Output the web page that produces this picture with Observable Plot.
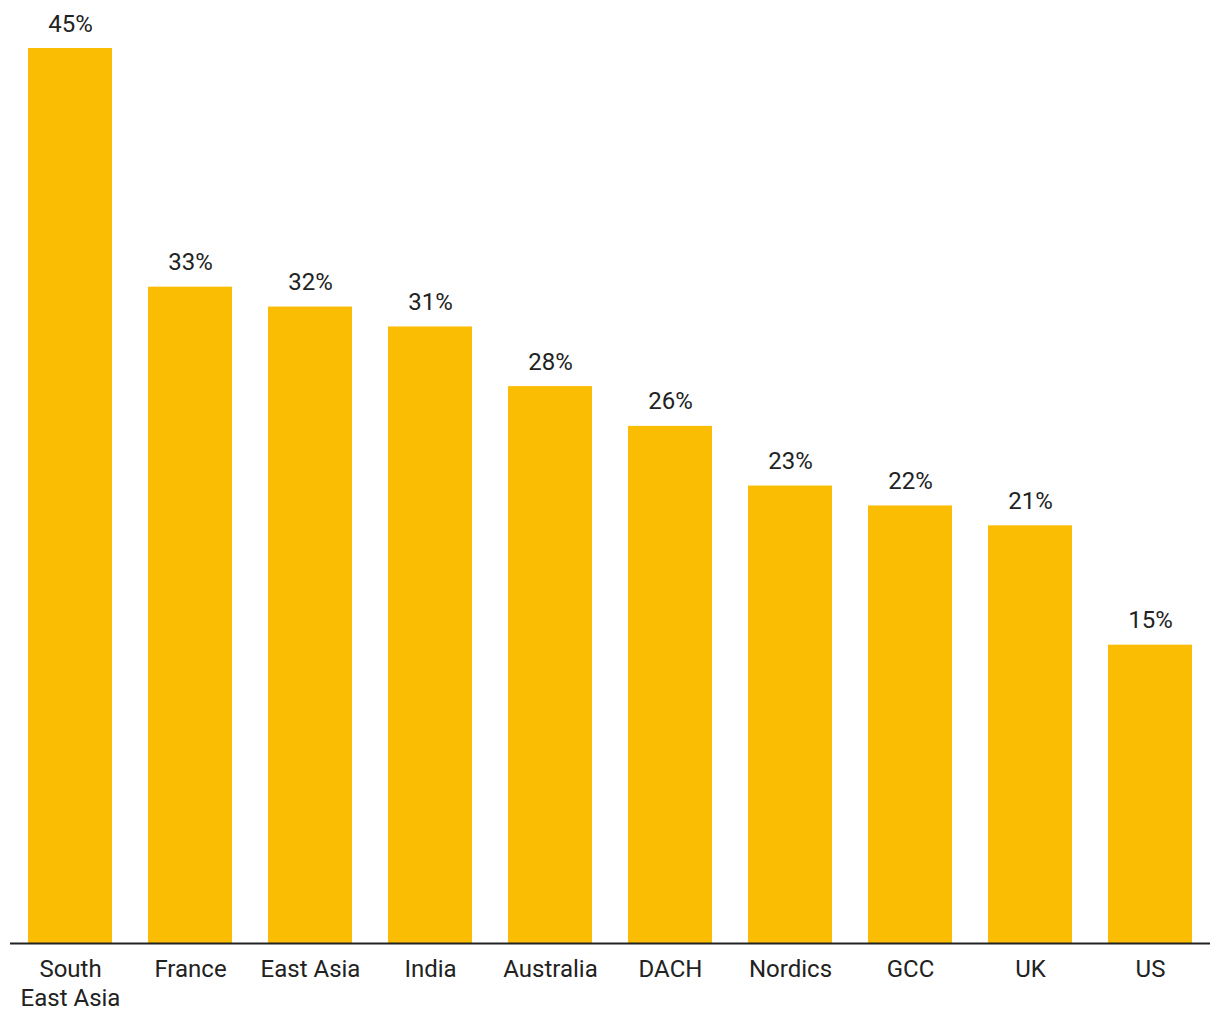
<!DOCTYPE html>
<html>
<head>
<meta charset="utf-8">
<script src="https://cdn.jsdelivr.net/npm/d3@7"></script>
<script src="https://cdn.jsdelivr.net/npm/@observablehq/plot@0.6"></script>
<style>
  html, body { margin: 0; padding: 0; background: #fff; }
  #chart svg { display: block; }
</style>
</head>
<body>
<div id="chart"></div>
<script>
const regions = ["South East Asia", "France", "East Asia", "India", "Australia", "DACH", "Nordics", "GCC", "UK", "US"];
const tickLabels = ["South\nEast Asia", "France", "East Asia", "India", "Australia", "DACH", "Nordics", "GCC", "UK", "US"];
const shares = [45, 33, 32, 31, 28, 26, 23, 22, 21, 15];

const data = regions.map((r, i) => ({region: r, value: shares[i]}));
const labelOf = new Map(regions.map((r, i) => [r, tickLabels[i]]));

const chart = Plot.plot({
  width: 1220,
  height: 1020,
  marginTop: 48,
  marginBottom: 77,
  marginLeft: 10,
  marginRight: 10,
  style: {fontFamily: "Roboto, sans-serif", fontSize: "24px", color: "#222", background: "#fff"},
  x: {domain: regions, paddingInner: 0.3, paddingOuter: 0.15},
  y: {domain: [0, 45], axis: null},
  marks: [
    Plot.barY(data, {x: "region", y: "value", fill: "#FBBC04"}),
    Plot.ruleY([0], {stroke: "#222", strokeWidth: 2}),
    Plot.text(data, {x: "region", y: "value", text: d => d.value + "%", lineAnchor: "bottom", dy: -17, fontSize: 24, fill: "#222"}),
    Plot.axisX({tickSize: 0, tickPadding: 14, lineAnchor: "top", lineHeight: 1.17, fontSize: 24, fill: "#222", label: null, tickFormat: d => labelOf.get(d)})
  ]
});
document.getElementById("chart").appendChild(chart);
</script>
</body>
</html>
